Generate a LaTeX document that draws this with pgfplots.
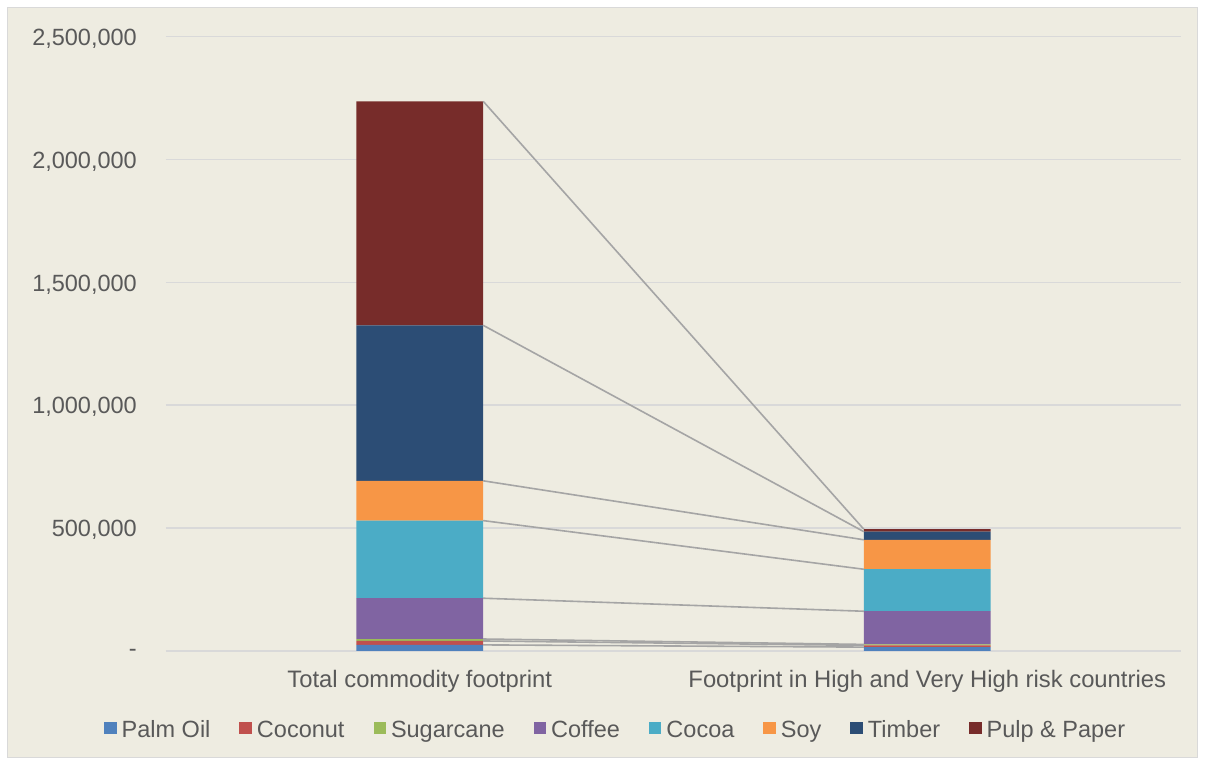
\documentclass[border=0pt]{standalone}
\usepackage{pgfplots}
\usepackage{pgfplotstable}
\pgfplotsset{compat=1.18}
\usepackage{fontspec}
\setmainfont{Liberation Sans}
\definecolor{bgc}{HTML}{EEECE1}
\definecolor{bordc}{HTML}{D9D9D9}
\definecolor{gridc}{HTML}{D9D9D9}
\definecolor{txtc}{HTML}{595959}
\definecolor{linec}{HTML}{A5A5A5}
\definecolor{cpalm}{HTML}{4F81BD}
\definecolor{ccoco}{HTML}{C0504D}
\definecolor{csugar}{HTML}{9BBB59}
\definecolor{ccoffee}{HTML}{8064A2}
\definecolor{ccocoa}{HTML}{4BACC6}
\definecolor{csoy}{HTML}{F79646}
\definecolor{ctimber}{HTML}{2C4D75}
\definecolor{cpulp}{HTML}{772C2A}
\pgfplotstableread{
x palm coconut sugar coffee cocoa soy timber pulp
0 24000 16000 8000 166000 316000 162000 633000 912000
1 15000 7000 4000 135000 171000 120000 33000 10000
}\datatable
\newcommand{\cfont}{\fontsize{23.5}{28}\selectfont}
\newcommand{\xfont}{\fontsize{23.8}{28}\selectfont}
\begin{document}
\begin{tikzpicture}
\useasboundingbox (0,0) rectangle (1205pt,765pt);
\fill[white] (0,0) rectangle (1205pt,765pt);
\draw[fill=bgc, draw=bordc, line width=1.5pt] (7.5pt,7.5pt) rectangle (1197.5pt,757.5pt);
\begin{axis}[
  at={(166pt,114.2pt)}, anchor=south west,
  scale only axis, width=1015pt, height=614.1pt,
  xmin=-0.5, xmax=1.5, ymin=0, ymax=2500000,
  ybar stacked, bar width=0.25,
  axis line style={draw=none},
  major tick length=0pt,
  ymajorgrids, grid style={gridc, line width=1.5pt},
  ytick={0,500000,1000000,1500000,2000000,2500000},
  yticklabels={{-\hspace{13pt}},{500,000},{1,000,000},{1,500,000},{2,000,000},{2,500,000}},
  yticklabel style={font=\cfont, text=txtc, inner sep=0pt, anchor=east, xshift=-29pt, yshift=-2pt},
  xtick={0,1},
  xticklabels={Total commodity footprint, Footprint in High and Very High risk countries},
  xticklabel style={font=\xfont, text=txtc, inner sep=0pt, anchor=north, yshift=-19pt},
  scaled y ticks=false,
  legend columns=8,
  legend image code/.code={\path[#1, draw=none] (0pt,-4pt) rectangle (12.5pt,8.5pt);},
  legend style={draw=none, fill=none, inner sep=0pt, font=\cfont, text=txtc,
    at={(-0.0611,-0.129)}, anchor=west,
    nodes={inner sep=0pt},
    /tikz/every odd column/.append style={column sep=5pt},
    /tikz/every even column/.append style={column sep=29pt}},
]
\addplot[fill=cpalm, draw=none] table[x=x, y=palm] {\datatable};
\addplot[fill=ccoco, draw=none] table[x=x, y=coconut] {\datatable};
\addplot[fill=csugar, draw=none] table[x=x, y=sugar] {\datatable};
\addplot[fill=ccoffee, draw=none] table[x=x, y=coffee] {\datatable};
\addplot[fill=ccocoa, draw=none] table[x=x, y=cocoa] {\datatable};
\addplot[fill=csoy, draw=none] table[x=x, y=soy] {\datatable};
\addplot[fill=ctimber, draw=none] table[x=x, y=timber] {\datatable};
\addplot[fill=cpulp, draw=none] table[x=x, y=pulp] {\datatable};
\legend{Palm Oil, Coconut, Sugarcane, Coffee, Cocoa, Soy, Timber, Pulp \& Paper}
\end{axis}
\begin{axis}[
  at={(166pt,114.2pt)}, anchor=south west,
  scale only axis, width=1015pt, height=614.1pt,
  xmin=-0.5, xmax=1.5, ymin=0, ymax=2500000,
  hide axis, stack plots=y,
]
\foreach \s in {palm,coconut,sugar,coffee,cocoa,soy,timber,pulp}{
  \addplot[linec, line width=1.6pt, mark=none] table[x expr=\thisrow{x}*0.75+0.125, y=\s] {\datatable};
}
\end{axis}
\end{tikzpicture}
\end{document}
